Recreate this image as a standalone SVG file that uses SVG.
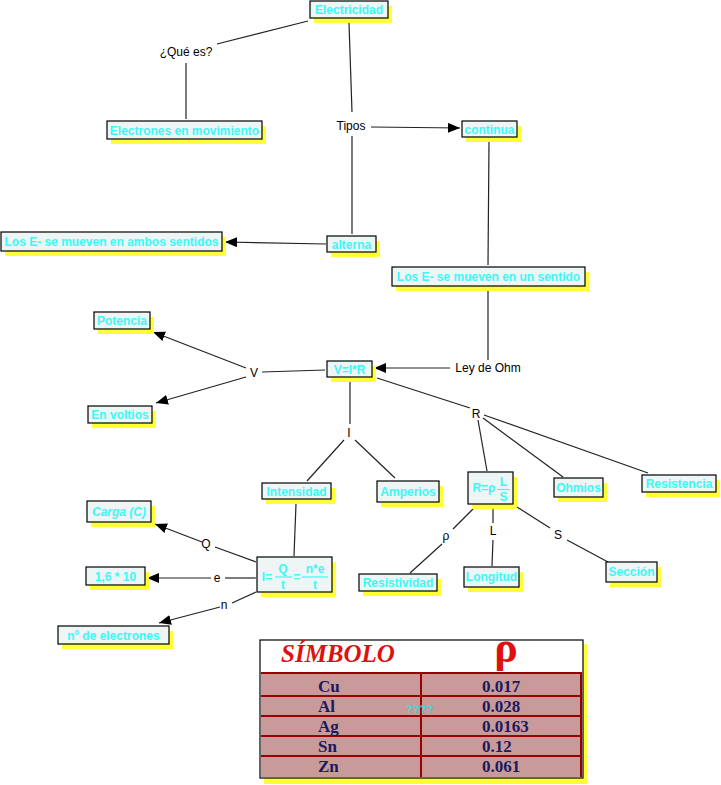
<svg xmlns="http://www.w3.org/2000/svg" width="721" height="785" viewBox="0 0 721 785">
<defs>
<marker id="arr" viewBox="0 0 12 10" refX="12" refY="5" markerWidth="12" markerHeight="10" markerUnits="userSpaceOnUse" orient="auto">
<path d="M0,0 L12,5 L0,10 z" fill="#000"/>
</marker>
</defs>
<style>
.sh{fill:#ffff33}
.bx{fill:#eef5f5;stroke:#000;stroke-width:1.2}
.nt{font-family:"Liberation Sans",Arial,sans-serif;font-weight:bold;font-size:12px;fill:#3cf8f8;text-anchor:middle}
.lb{font-family:"Liberation Sans",Arial,sans-serif;font-size:12px;fill:#000;text-anchor:middle}
.cn line{stroke:#222;stroke-width:1.2}
.ar{marker-end:url(#arr)}
.fb{stroke:#3cf8f8;stroke-width:1.2}
.tt{font-family:"Liberation Serif","Times New Roman",serif;font-weight:bold;font-size:17px;fill:#1a1a5e}
</style>
<rect width="721" height="785" fill="#fff"/>

<g id="connectors" class="cn">
<line x1="308" y1="21" x2="217" y2="44"/>
<line x1="186" y1="63" x2="186" y2="119"/>
<line x1="349" y1="23" x2="352" y2="112"/>
<line x1="352" y1="136" x2="352" y2="234"/>
<line class="ar" x1="371" y1="127" x2="460" y2="128"/>
<line class="ar" x1="326" y1="244" x2="225" y2="242"/>
<line x1="489" y1="142" x2="488" y2="265"/>
<line x1="488" y1="288" x2="488" y2="360"/>
<line class="ar" x1="450" y1="368" x2="374" y2="368"/>
<line x1="325" y1="370" x2="262" y2="372"/>
<line class="ar" x1="246" y1="368" x2="153" y2="332"/>
<line class="ar" x1="246" y1="377" x2="156" y2="403"/>
<line x1="350" y1="382" x2="350" y2="424"/>
<line x1="377" y1="378" x2="470" y2="408"/>
<line x1="344" y1="440" x2="307" y2="481"/>
<line x1="355" y1="440" x2="395" y2="478"/>
<line x1="296" y1="504" x2="294" y2="556"/>
<line x1="478" y1="420" x2="487" y2="471"/>
<line x1="483" y1="418" x2="563" y2="477"/>
<line x1="484" y1="415" x2="648" y2="473"/>
<line x1="473" y1="509" x2="453" y2="529"/>
<line x1="442" y1="544" x2="410" y2="573"/>
<line x1="493" y1="508" x2="493" y2="523"/>
<line x1="493" y1="540" x2="492" y2="566"/>
<line x1="517" y1="507" x2="550" y2="528"/>
<line x1="567" y1="540" x2="608" y2="562"/>
<line x1="256" y1="562" x2="215" y2="547"/>
<line class="ar" x1="202" y1="542" x2="155" y2="524"/>
<line x1="256" y1="578" x2="225" y2="578"/>
<line class="ar" x1="211" y1="578" x2="147" y2="578"/>
<line x1="256" y1="592" x2="232" y2="603"/>
<line class="ar" x1="220" y1="607" x2="159" y2="623"/>
</g>

<g id="labels">
<text class="lb" x="186" y="56">¿Qué es?</text>
<text class="lb" x="351" y="130">Tipos</text>
<text class="lb" x="488" y="372">Ley de Ohm</text>
<text class="lb" x="254" y="377">V</text>
<text class="lb" x="349" y="437">I</text>
<text class="lb" x="476" y="418">R</text>
<text class="lb" x="446" y="540">ρ</text>
<text class="lb" x="493" y="535">L</text>
<text class="lb" x="558" y="539">S</text>
<text class="lb" x="206" y="548">Q</text>
<text class="lb" x="217" y="582">e</text>
<text class="lb" x="224" y="609">n</text>
</g>

<g id="n-electricidad"><rect class="sh" x="314" y="6" width="78" height="17"/><rect class="bx" x="310" y="1" width="78" height="17"/><text class="nt" x="349" y="14">Electricidad</text></g>
<g id="n-electrones"><rect class="sh" x="111" y="126" width="155" height="18"/><rect class="bx" x="107" y="121" width="155" height="18"/><text class="nt" x="184.5" y="134.5">Electrones en movimiento</text></g>
<g id="n-ambos"><rect class="sh" x="5" y="237" width="221" height="19"/><rect class="bx" x="1" y="232" width="221" height="19"/><text class="nt" x="111.5" y="246">Los E- se mueven en ambos sentidos</text></g>
<g id="n-alterna"><rect class="sh" x="331" y="241" width="49" height="16"/><rect class="bx" x="327" y="236" width="49" height="16"/><text class="nt" x="351.5" y="248.5">alterna</text></g>
<g id="n-continua"><rect class="sh" x="466" y="126" width="55" height="16"/><rect class="bx" x="462" y="121" width="55" height="16"/><text class="nt" x="489.5" y="133.5">continua</text></g>
<g id="n-unsentido"><rect class="sh" x="396" y="272" width="193" height="19"/><rect class="bx" x="392" y="267" width="193" height="19"/><text class="nt" x="488.5" y="281">Los E- se mueven en un sentido</text></g>
<g id="n-potencia"><rect class="sh" x="98" y="317" width="56" height="17"/><rect class="bx" x="94" y="312" width="56" height="17"/><text class="nt" x="122" y="325">Potencia</text></g>
<g id="n-voltios"><rect class="sh" x="92" y="411" width="64" height="17"/><rect class="bx" x="88" y="406" width="64" height="17"/><text class="nt" x="120" y="419">En voltios</text></g>
<g id="n-vir"><rect class="sh" x="331" y="366" width="45" height="16"/><rect class="bx" x="327" y="361" width="45" height="16"/><text class="nt" x="349.5" y="373.5">V=I*R</text></g>
<g id="n-intensidad"><rect class="sh" x="266" y="488" width="69" height="16"/><rect class="bx" x="262" y="483" width="69" height="16"/><text class="nt" x="296.5" y="495.5">Intensidad</text></g>
<g id="n-amperios"><rect class="sh" x="381" y="486" width="62" height="21"/><rect class="bx" x="377" y="481" width="62" height="21"/><text class="nt" x="408" y="495.5">Amperios</text></g>
<g id="n-rformula"><rect class="sh" x="472" y="477" width="45" height="32"/><rect class="bx" x="468" y="472" width="45" height="32"/>
<text class="nt" x="484" y="492">R=ρ</text><line class="fb" x1="497" y1="489.5" x2="510" y2="489.5"/><text class="nt" x="503.5" y="486">L</text><text class="nt" x="503.5" y="501">S</text></g>
<g id="n-ohmios"><rect class="sh" x="558" y="483" width="49" height="19"/><rect class="bx" x="554" y="478" width="49" height="19"/><text class="nt" x="578.5" y="491.5">Ohmios</text></g>
<g id="n-resistencia"><rect class="sh" x="646" y="480" width="74" height="17"/><rect class="bx" x="642" y="475" width="74" height="17"/><text class="nt" x="679" y="488">Resistencia</text></g>
<g id="n-resistividad"><rect class="sh" x="363" y="579" width="78" height="17"/><rect class="bx" x="359" y="574" width="78" height="17"/><text class="nt" x="398" y="587">Resistividad</text></g>
<g id="n-longitud"><rect class="sh" x="468" y="572" width="55" height="20"/><rect class="bx" x="464" y="567" width="55" height="20"/><text class="nt" x="491.5" y="581">Longitud</text></g>
<g id="n-seccion"><rect class="sh" x="610" y="567" width="51" height="20"/><rect class="bx" x="606" y="562" width="51" height="20"/><text class="nt" x="631.5" y="576">Sección</text></g>
<g id="n-iformula"><rect class="sh" x="261" y="562" width="75" height="35"/><rect class="bx" x="257" y="557" width="75" height="35"/>
<text class="nt" x="267" y="581">I=</text>
<line class="fb" x1="275" y1="577" x2="292" y2="577"/><text class="nt" x="283" y="573">Q</text><text class="nt" x="283" y="589">t</text>
<text class="nt" x="297" y="581">=</text>
<line class="fb" x1="302" y1="577" x2="328" y2="577"/><text class="nt" x="315" y="573">n*e</text><text class="nt" x="315" y="589">t</text></g>
<g id="n-carga"><rect class="sh" x="91" y="506" width="64" height="21"/><rect class="bx" x="87" y="501" width="64" height="21"/><text class="nt" x="119" y="515.5" font-style="italic">Carga (C)</text></g>
<g id="n-16"><rect class="sh" x="90" y="572" width="59" height="18"/><rect class="bx" x="86" y="567" width="59" height="18"/><text class="nt" x="115.5" y="580.5">1,6 * 10</text></g>
<g id="n-electrones2"><rect class="sh" x="62" y="631" width="111" height="18"/><rect class="bx" x="58" y="626" width="111" height="18"/><text class="nt" x="113.5" y="639.5">nº de electrones</text></g>

<g id="tabla">
<rect x="264" y="644" width="323" height="140" fill="#ffff33"/>
<rect x="260" y="640" width="323" height="138" fill="#fff" stroke="#000" stroke-width="1.2"/>
<rect x="261" y="673" width="321" height="104" fill="#c89a9a"/>
<g stroke="#990000" stroke-width="2">
<line x1="261" y1="673" x2="582" y2="673"/>
<line x1="261" y1="696" x2="582" y2="696"/>
<line x1="261" y1="716" x2="582" y2="716"/>
<line x1="261" y1="736" x2="582" y2="736"/>
<line x1="261" y1="756" x2="582" y2="756"/>
<line x1="421" y1="673" x2="421" y2="777"/>
<line x1="581" y1="673" x2="581" y2="777"/>
</g>
<text x="281" y="662" font-family="Liberation Serif,serif" font-weight="bold" font-style="italic" font-size="25" fill="#dd1111">SÍMBOLO</text>
<text x="506" y="662" font-family="Liberation Serif,serif" font-weight="bold" font-size="44" fill="#e01010" text-anchor="middle">ρ</text>
<text class="tt" x="318" y="692">Cu</text>
<text class="tt" x="318" y="712">Al</text>
<text class="tt" x="318" y="732">Ag</text>
<text class="tt" x="318" y="752">Sn</text>
<text class="tt" x="318" y="772">Zn</text>
<text class="tt" x="482" y="692">0.017</text>
<text class="tt" x="482" y="712">0.028</text>
<text class="tt" x="482" y="732">0.0163</text>
<text class="tt" x="482" y="752">0.12</text>
<text class="tt" x="482" y="772">0.061</text>
<text x="406" y="713" font-family="Liberation Sans,sans-serif" font-weight="bold" font-size="11" fill="#33dddd">????</text>
</g>
</svg>
